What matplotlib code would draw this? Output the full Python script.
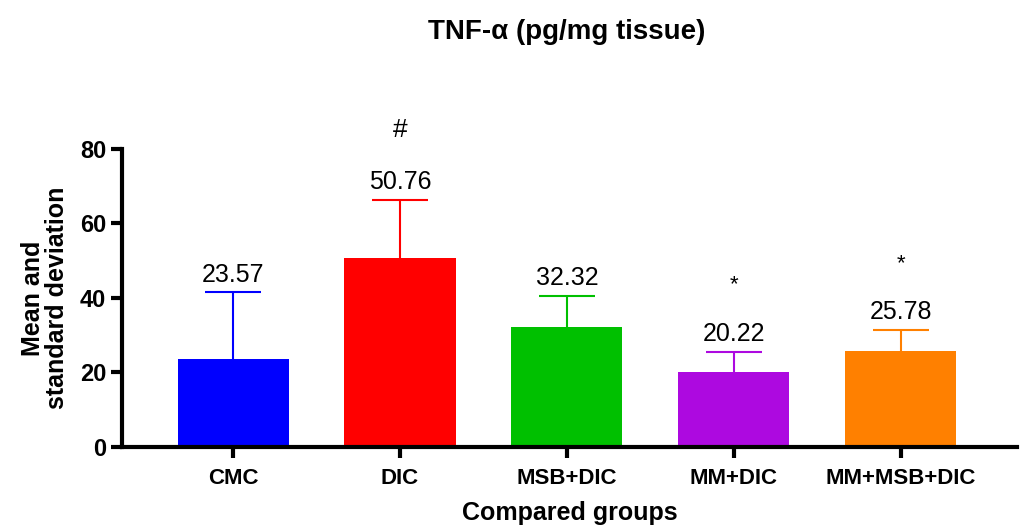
import numpy as np
import matplotlib
matplotlib.use('Agg')
from matplotlib import pyplot as plt

plt.rcParams['font.family'] = ['Liberation Sans', 'DejaVu Sans']

groups = ['CMC', 'DIC', 'MSB+DIC', 'MM+DIC', 'MM+MSB+DIC']
means = [23.57, 50.76, 32.32, 20.22, 25.78]
sds = [18.0, 15.6, 8.3, 5.4, 5.7]
marks = ['', '#', '', '*', '*']
colors = ['#0000ff', '#ff0000', '#00c000', '#ad09e0', '#ff8000']

fig = plt.figure(figsize=(10.21, 5.30), dpi=100)
ax = fig.add_axes([0.1195, 0.1566, 0.8765, 0.5623])

x = np.arange(len(groups))
ax.bar(x, means, width=0.665, color=colors, zorder=2)
for i in range(len(groups)):
    line, caps, bars = ax.errorbar(x[i], means[i], yerr=[[0], [sds[i]]], fmt='none',
                                   ecolor=colors[i], elinewidth=1.5, capsize=20,
                                   capthick=1.5, zorder=1)
    caps[0].set_visible(False)
    top = means[i] + sds[i]
    ax.text(x[i], top + 1.5, '%.2f' % means[i], ha='center', va='bottom', fontsize=18)
    if marks[i] == '#':
        ax.text(x[i], top + 15.5, marks[i], ha='center', va='bottom', fontsize=19)
    elif marks[i]:
        ax.text(x[i], top + 15, marks[i], ha='center', va='bottom', fontsize=16)

ax.set_xlim(-0.665, 4.695)
ax.set_ylim(0, 80)
ax.set_yticks([0, 20, 40, 60, 80])
ax.set_xticks(x)
ax.set_xticklabels(groups, fontweight='bold', fontsize=16)
for lab in ax.get_yticklabels():
    lab.set_fontweight('bold')
    lab.set_fontsize(17)
ax.tick_params(axis='both', width=3, length=8, direction='out')
ax.tick_params(axis='x', pad=7)
ax.spines['top'].set_visible(False)
ax.spines['right'].set_visible(False)
ax.spines['left'].set_linewidth(3)
ax.spines['bottom'].set_linewidth(3)

ax.set_xlabel('Compared groups', fontweight='bold', fontsize=18, labelpad=9)
ax.set_ylabel('Mean and\nstandard deviation', fontweight='bold', fontsize=18, labelpad=8,
              linespacing=1.0)
fig.text(0.555, 0.94, 'TNF-α (pg/mg tissue)', ha='center', va='center',
         fontweight='bold', fontsize=20)

fig.savefig('out.png', dpi=100)
